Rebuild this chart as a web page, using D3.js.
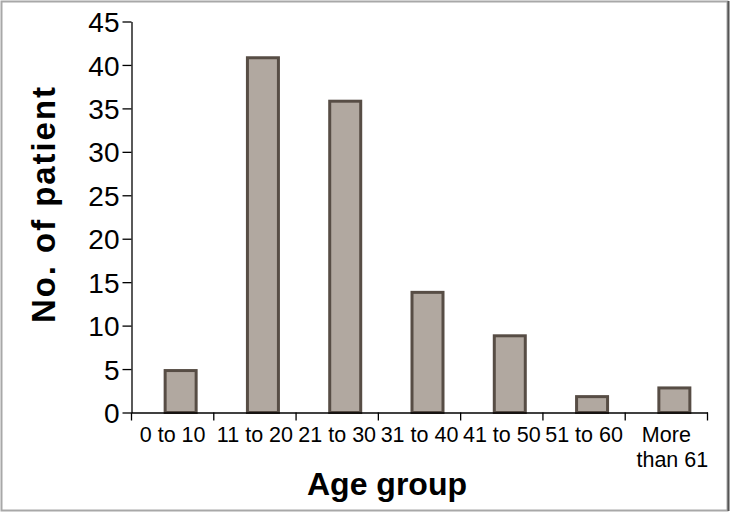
<!DOCTYPE html>
<html><head><meta charset="utf-8">
<script src="https://cdn.jsdelivr.net/npm/d3@7"></script>
<style>html,body{margin:0;padding:0;background:#fff;}svg{display:block;}</style>
</head><body>
<script>
const categories = ["0 to 10","11 to 20","21 to 30","31 to 40","41 to 50","51 to 60","More\nthan 61"];
const patients = [5, 41, 36, 14, 9, 2, 3];
const yTicks = [0,5,10,15,20,25,30,35,40,45];
const xTitle = "Age group";
const yTitle = "No. of patient";

const FONT = "'Liberation Sans', Arimo, Arial, sans-serif";
const W = 730, H = 512;
const svg = d3.select("body").append("svg").attr("width", W).attr("height", H);
svg.append("rect").attr("width", W).attr("height", H).attr("fill", "#fff");
// frame
svg.append("rect").attr("x",1.5).attr("y",1.5).attr("width",726).attr("height",509)
  .attr("fill","none").attr("stroke","#a8a8a8").attr("stroke-width",2);
svg.append("line").attr("x1",728.5).attr("x2",728.5).attr("y1",1).attr("y2",511)
  .attr("stroke","#555").attr("stroke-width",2);

const x = d3.scaleBand().domain(categories).range([131.5, 707.5]).padding(0);
const y = d3.scaleLinear().domain([0,45]).range([412.5, 21.5]);

const barW = 31, barOffset = 8;
svg.append("g").selectAll("rect").data(patients).join("rect")
  .attr("x", (d,i) => x(categories[i]) + x.bandwidth()/2 + barOffset - barW/2)
  .attr("y", d => y(d) + 1.5)
  .attr("width", barW)
  .attr("height", d => y(0) - y(d) - 1.5)
  .attr("fill", "#b1a8a0")
  .attr("stroke", "#574d45")
  .attr("stroke-width", 3);

// y axis
const ya = svg.append("g").attr("transform","translate(131.5,0)")
  .call(d3.axisLeft(y).tickValues(yTicks).tickSize(9).tickPadding(3).tickSizeOuter(0));
ya.select(".domain").attr("stroke","#000").attr("stroke-width",1.3);
ya.selectAll(".tick line").attr("stroke","#000").attr("stroke-width",1.3);
ya.selectAll(".tick text").attr("font-family",FONT)
  .attr("font-size",28).attr("fill","#000").attr("dy","0.36em");

// x axis
const xa = svg.append("g").attr("transform","translate(0,412.5)")
  .call(d3.axisBottom(x).tickSize(0).tickFormat(""));
xa.select(".domain").attr("stroke","#000").attr("stroke-width",1.3);
const bounds = categories.map(c => x(c)).concat([x.range()[1]]);
xa.selectAll(".sep").data(bounds).join("line").attr("class","sep")
  .attr("x1", d=>d).attr("x2", d=>d).attr("y1",0).attr("y2",8)
  .attr("stroke","#000").attr("stroke-width",1.3);

const lbl = svg.append("g");
categories.forEach(c => {
  const lines = c.split("\n");
  const t = lbl.append("text")
    .attr("x", x(c) + x.bandwidth()/2)
    .attr("y", 442)
    .attr("text-anchor","middle")
    .attr("font-family",FONT)
    .attr("font-size",21.5).attr("fill","#000");
  lines.forEach((ln,k) => {
    t.append("tspan").attr("x", x(c) + x.bandwidth()/2 + (lines.length>1 ? (k===0?0:6) : 0))
      .attr("dy", k===0 ? 0 : 25).text(ln);
  });
});

// titles
svg.append("text").attr("x",387).attr("y",495).attr("text-anchor","middle")
  .attr("font-family",FONT).attr("font-weight","bold")
  .attr("font-size",32).attr("fill","#000").text(xTitle);
svg.append("text").attr("transform","translate(55,205) rotate(-90)").attr("text-anchor","middle")
  .attr("font-family",FONT).attr("font-weight","bold")
  .attr("font-size",33).attr("fill","#000")
  .attr("textLength",236).attr("lengthAdjust","spacing").text(yTitle);
</script>
</body></html>
